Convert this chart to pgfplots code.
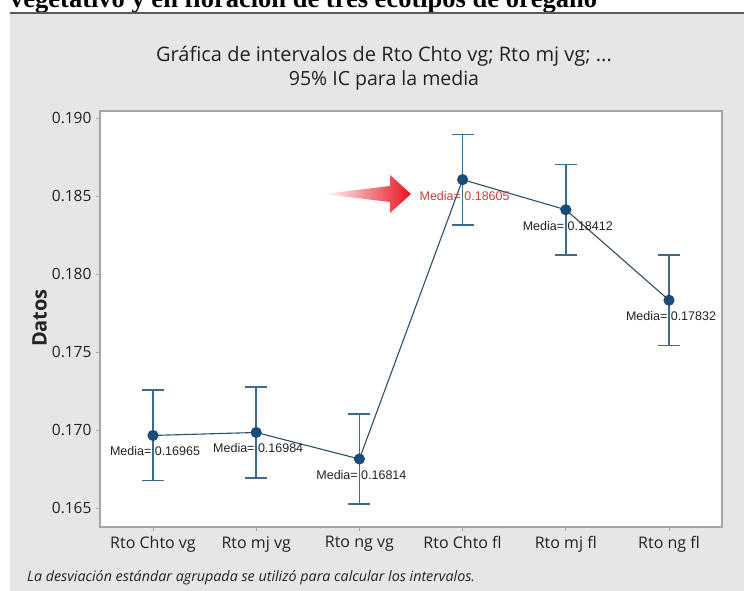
\documentclass[border=0pt]{standalone}
\usepackage{pgfplots}
\pgfplotsset{compat=1.18}
\usepackage{fontspec}
\setmainfont{Open Sans}
\newfontfamily\arialf{Liberation Sans}
\newfontfamily\timesf{Liberation Serif}
\definecolor{panel}{HTML}{E6E6E6}
\definecolor{frame}{HTML}{A6A6A6}
\definecolor{topline}{HTML}{5A5A5A}
\definecolor{linecol}{HTML}{2F4F68}
\definecolor{markcol}{HTML}{1B4B78}
\definecolor{errcol}{HTML}{3E6B8C}
\definecolor{labred}{HTML}{C4443F}
\definecolor{arrowred}{HTML}{E8141E}
\definecolor{txt}{HTML}{222222}

\begin{document}
\begin{tikzpicture}[x=1pt,y=1pt]
\useasboundingbox (0,0) rectangle (744,-591);
\fill[white] (0,0) rectangle (744,-591);
% cut-off heading of the page above the figure
\begin{scope}
\clip (0,0) rectangle (744,-12);
\node[anchor=base west, inner sep=0pt, font=\timesf\bfseries\fontsize{26.5}{28}\selectfont]
  at (10,-8) {vegetativo y en floración de tres ecotipos de orégano};
\end{scope}
% grey panel of the figure
\fill[panel] (10,-14) rectangle (744,-591);
\draw[topline, line width=2pt] (10,-13) -- (744,-13);

\begin{axis}[
  at={(100pt,-527pt)}, anchor=south west,
  scale only axis, width=622pt, height=416pt,
  xmin=-0.5136, xmax=5.5136,
  ymin=0.16378, ymax=0.19045,
  axis background/.style={fill=white},
  axis line style={frame, line width=1.3pt},
  xtick={0,...,5},
  xticklabels={Rto Chto vg, Rto mj vg, Rto ng vg, Rto Chto fl, Rto mj fl, Rto ng fl},
  ytick={0.165,0.170,0.175,0.180,0.185,0.190},
  tick align=outside, major tick length=4pt,
  tick style={frame, line width=0.8pt},
  xtick pos=bottom, ytick pos=left,
  /pgf/number format/fixed, /pgf/number format/fixed zerofill,
  /pgf/number format/precision=3, /pgf/number format/assume math mode=true,
  y tick label style={font=\fontsize{15.5}{17}\selectfont, text=txt, xshift=-1pt},
  x tick label style={font=\fontsize{16}{18}\selectfont, text=txt, yshift=-2pt},
  scaled y ticks=false,
  clip=false,
]
\addplot[draw=linecol, line width=1.1pt, mark=*, mark size=5pt,
  mark options={fill=markcol, draw=markcol},
  error bars/.cd, y dir=both, y explicit,
  error bar style={errcol, line width=1.6pt},
  error mark options={rotate=90, errcol, mark size=11pt, line width=1.6pt}]
  coordinates {
    (0,0.16965) +- (0,0.00290)
    (1,0.16984) +- (0,0.00290)
    (2,0.16814) +- (0,0.00290)
    (3,0.18605) +- (0,0.00290)
    (4,0.18412) +- (0,0.00290)
    (5,0.17832) +- (0,0.00290)};
% mean labels
\begin{scope}[every node/.style={font=\arialf\fontsize{12.5}{14}\selectfont, text=txt,
    inner sep=0pt, yshift=-16pt, xshift=2pt}]
\node at (axis cs:0,0.16965) {Media= 0.16965};
\node at (axis cs:1,0.16984) {Media= 0.16984};
\node at (axis cs:2,0.16814) {Media= 0.16814};
\node[text=labred] at (axis cs:3,0.18605) {Media= 0.18605};
\node at (axis cs:4,0.18412) {Media= 0.18412};
\node at (axis cs:5,0.17832) {Media= 0.17832};
\end{scope}
\end{axis}

% red pointer arrow
\shade[left color=white, right color=arrowred]
  (323,-194) -- (390,-186) -- (390,-175) -- (411,-194) -- (390,-213) -- (390,-202) -- cycle;

% titles and labels
\node[anchor=base, text=txt, font=\fontsize{20}{22}\selectfont] at (384,-62)
  {Gráfica de intervalos de Rto Chto vg; Rto mj vg; ...};
\node[anchor=base, text=txt, font=\fontsize{19.5}{22}\selectfont] at (384,-86)
  {95\% IC para la media};
\node[rotate=90, text=txt, font=\bfseries\fontsize{20}{22}\selectfont] at (39.5,-318) {Datos};
\node[anchor=base west, inner sep=0pt, text=txt, font=\itshape\fontsize{14.3}{16}\selectfont]
  at (27,-581) {La desviación estándar agrupada se utilizó para calcular los intervalos.};
\end{tikzpicture}
\end{document}
